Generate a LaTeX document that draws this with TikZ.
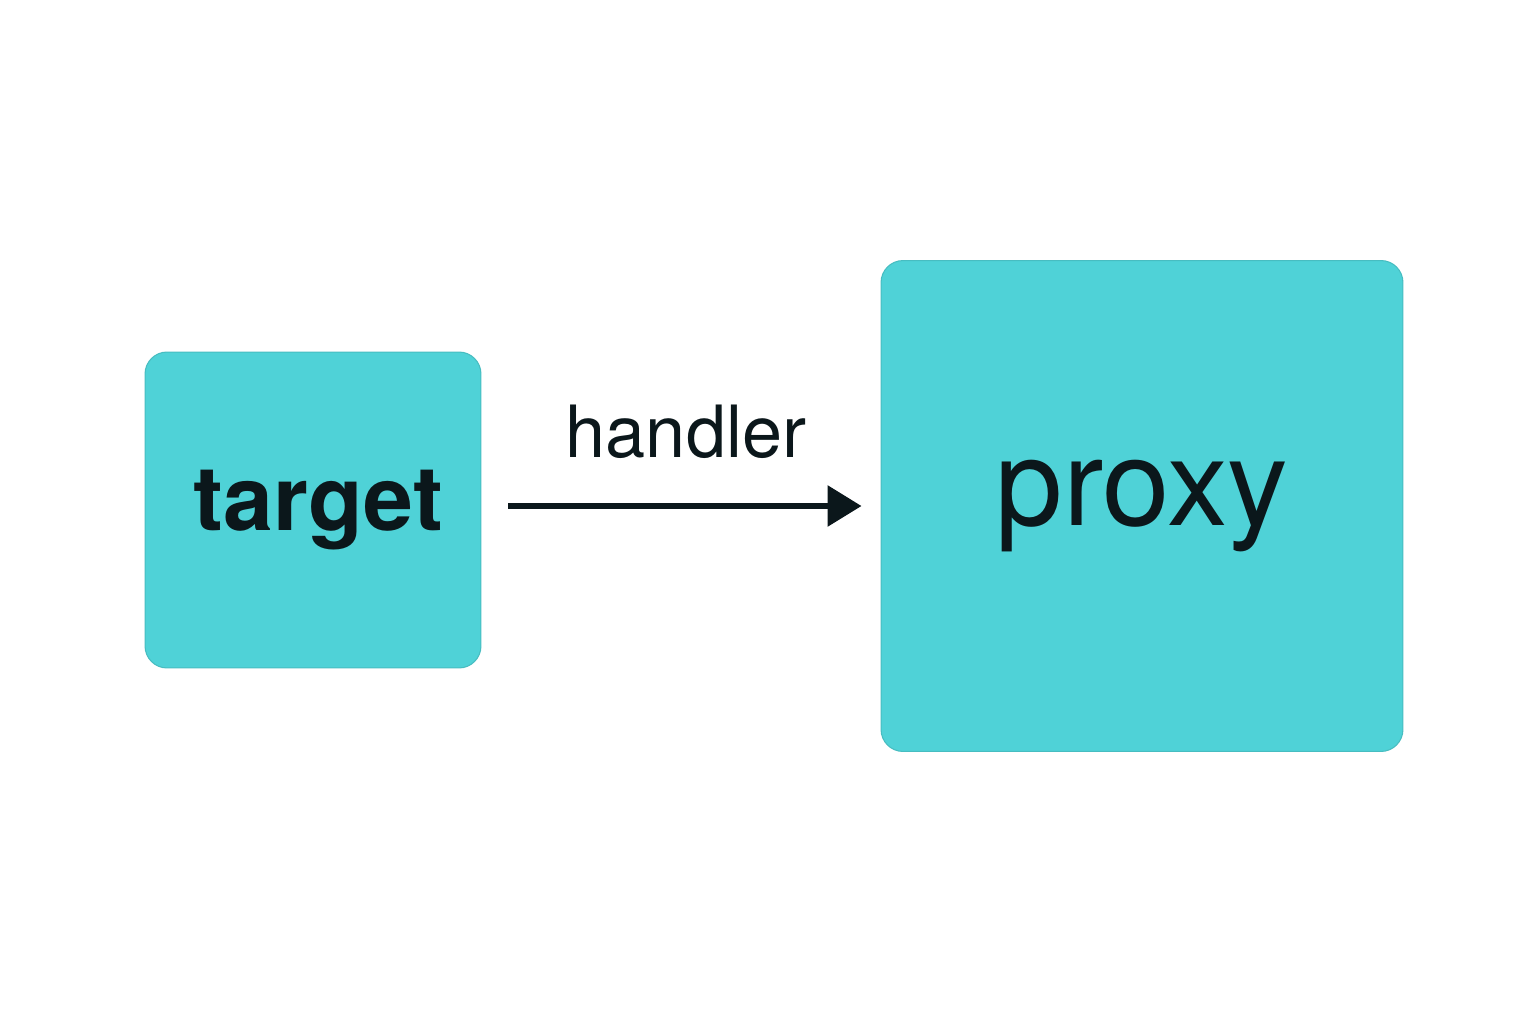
\documentclass[tikz,border=0pt]{standalone}
\usepackage{fontspec}
\setmainfont{TeX Gyre Heros}
\usepackage{tikz}
\usetikzlibrary{arrows.meta}

\definecolor{boxcyan}{HTML}{4FD2D7}
\definecolor{ink}{HTML}{0B171B}

\begin{document}
\begin{tikzpicture}[x=0.02cm, y=-0.02cm,
    card/.style={fill=boxcyan, draw=boxcyan!90!black, line width=0.6pt,
        rounded corners=0.44cm, text=ink, inner sep=0pt},
    link/.style={draw=ink, line width=0.12cm,
        -{Triangle[length=0.68cm, width=0.8cm]}}]
    \useasboundingbox[fill=white] (0, 0) rectangle (1536, 1024);

    \node[card, minimum width=6.72cm, minimum height=6.32cm,
        font=\fontsize{51}{60}\selectfont\bfseries] (target) at (313, 510) {\hspace{0.2cm}target};
    \node[card, minimum width=10.44cm, minimum height=9.82cm,
        font=\fontsize{69}{80}\selectfont] (proxy) at (1142, 506) {proxy};

    \draw[link, shorten <=0.54cm, shorten >=0.38cm]
        (target.east |- proxy.west) -- (proxy.west)
        node[midway, above=0.88cm, xshift=0.1cm, inner sep=0pt, text=ink,
            font=\fontsize{41}{48}\selectfont] (handler) {handler};
\end{tikzpicture}
\end{document}
